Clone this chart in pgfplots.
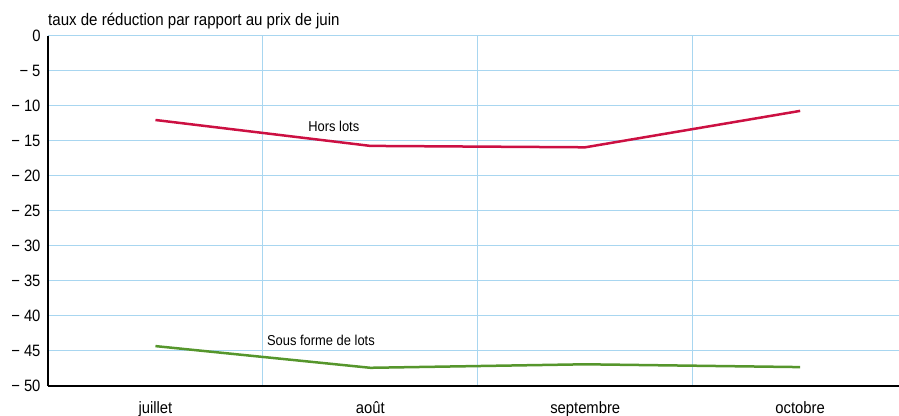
\documentclass[border=0pt]{standalone}
\usepackage{fontspec}
\setmainfont{Liberation Sans}[FakeStretch=0.9]
\usepackage{pgfplots}
\pgfplotsset{compat=1.18}
\definecolor{redl}{RGB}{204,16,66}
\definecolor{greenl}{RGB}{86,150,44}
\definecolor{gridb}{RGB}{168,214,240}
\begin{document}
\begin{tikzpicture}
\useasboundingbox (0,0) rectangle (899bp,416bp);
\begin{axis}[
  at={(48bp,30bp)}, anchor=south west,
  width=851bp, height=350bp, scale only axis,
  xmin=-0.5, xmax=3.46, ymin=-50, ymax=0,
  axis x line=bottom, axis y line=left,
  axis line style={black, line width=1.3bp, -},
  xtick={0,1,2,3},
  xticklabels={juillet,août,septembre,octobre},
  minor xtick={0.5,1.5,2.5},
  ytick={-50,-45,...,0},
  yticklabels={−\ 50,−\ 45,−\ 40,−\ 35,−\ 30,−\ 25,−\ 20,−\ 15,−\ 10,−\ 5,0},
  major tick length=0pt, minor tick length=0pt,
  ymajorgrids, xminorgrids,
  grid style={gridb, line width=1bp},
  minor grid style={gridb, line width=1bp},
  tick label style={font=\fontsize{16.5}{18}\selectfont},
  yticklabel style={xshift=-4bp},
  xticklabel style={yshift=-12bp},
  /pgf/number format/assume math mode=true,
  clip=false,
]
\addplot[redl, line width=2.5bp] coordinates {(0,-12.0) (1,-15.7) (2,-15.9) (3,-10.7)};
\addplot[greenl, line width=2.5bp] coordinates {(0,-44.3) (1,-47.4) (2,-46.9) (3,-47.3)};
\node[font=\fontsize{14.4}{15}\selectfont, anchor=center] at (axis cs:0.83,-12.9) {Hors lots};
\node[font=\fontsize{14.4}{15}\selectfont, anchor=center] at (axis cs:0.77,-43.5) {Sous forme de lots};
\node[font=\fontsize{16.8}{18}\selectfont, anchor=base west, inner sep=0pt] at ([yshift=10bp]rel axis cs:0,1) {taux de réduction par rapport au prix de juin};
\end{axis}
\end{tikzpicture}
\end{document}
